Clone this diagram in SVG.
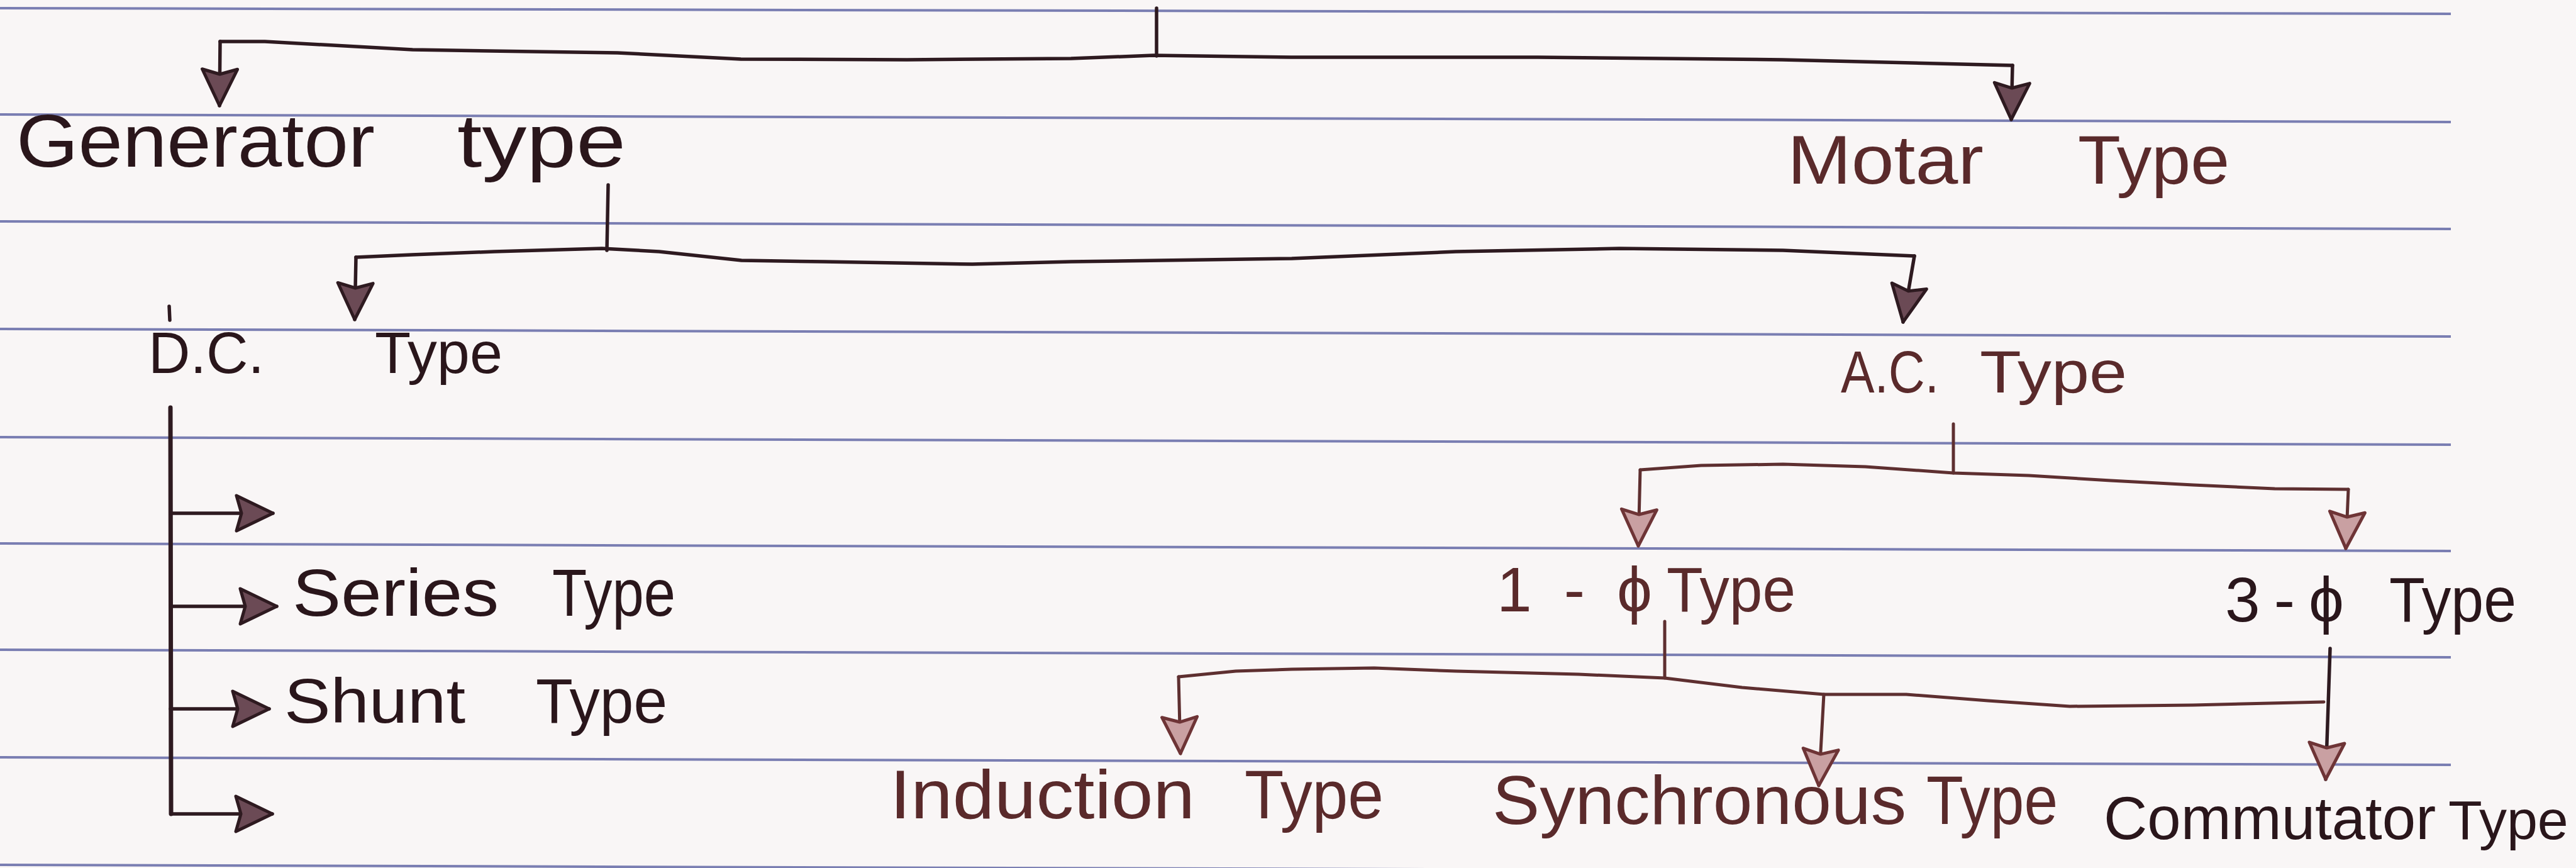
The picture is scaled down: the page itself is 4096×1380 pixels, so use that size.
<svg xmlns="http://www.w3.org/2000/svg" width="4096" height="1380" viewBox="0 0 4096 1380">
<defs>
<style>
.rule{stroke:#6468a6;stroke-width:4;fill:none;opacity:0.85}
.cd{fill:none;stroke:#2e1a20;stroke-width:5.5;stroke-linecap:round;stroke-linejoin:round}
.cr{fill:none;stroke:#5e2f30;stroke-width:5;stroke-linecap:round;stroke-linejoin:round}
.ad{marker-end:url(#ahd)}
.ar{marker-end:url(#ahr)}
text{font-family:"Liberation Sans","DejaVu Sans",Arial,sans-serif;font-weight:normal}
.tk{fill:#2a161b}
.tr{fill:#5a2a2b}
</style>
<marker id="ahd" viewBox="-6 -36 72 72" refX="58" refY="0" markerWidth="72" markerHeight="72" markerUnits="userSpaceOnUse" orient="auto">
<path d="M0,-28 L58,0 L0,28 L8,0 Z" fill="#6b4a55" stroke="#2e1a20" stroke-width="5" stroke-linejoin="round"/>
</marker>
<marker id="ahr" viewBox="-6 -36 72 72" refX="58" refY="0" markerWidth="72" markerHeight="72" markerUnits="userSpaceOnUse" orient="auto">
<path d="M0,-28 L58,0 L0,28 L8,0 Z" fill="#c9a0a2" stroke="#6e3436" stroke-width="5" stroke-linejoin="round"/>
</marker>
</defs>
<rect x="0" y="0" width="4096" height="1380" fill="#f9f6f6"/>
<g id="rules">
<line class="rule" x1="0" y1="13" x2="3897" y2="22"/>
<line class="rule" x1="0" y1="182" x2="3897" y2="194"/>
<line class="rule" x1="0" y1="352" x2="3897" y2="364"/>
<line class="rule" x1="0" y1="523" x2="3897" y2="535"/>
<line class="rule" x1="0" y1="695" x2="3897" y2="707"/>
<line class="rule" x1="0" y1="864" x2="3897" y2="876"/>
<line class="rule" x1="0" y1="1033" x2="3897" y2="1045"/>
<line class="rule" x1="0" y1="1204" x2="3897" y2="1216"/>
<line class="rule" x1="0" y1="1375" x2="3897" y2="1387"/>
</g>
<g id="connectors">
<path class="cd" d="M1839,13 L1839,89"/>
<path class="cd" d="M350,66 L421,66 L656,79 L982,84 L1178,94 L1442,95 L1703,93 L1834,88 L2053,91 L2445,91 L2834,95 L3200,104"/>
<path class="cd ad" d="M350,66 L349,168"/>
<path class="cd ad" d="M3200,104 L3198,190"/>
<path class="cd" d="M967,294 L965,398"/>
<path class="cd" d="M566,409 L655,405 L786,400 L957,395 L1048,400 L1179,414 L1310,416 L1546,420 L1703,416 L2054,411 L2315,400 L2575,395 L2835,398 L3044,407"/>
<path class="cd ad" d="M566,409 L564,508"/>
<path class="cd ad" d="M3044,407 L3026,512"/>
<path class="cr" d="M3106,674 L3106,752"/>
<path class="cr" d="M2608,747 L2705,740 L2835,738 L2966,742 L3106,752 L3226,756 L3356,764 L3487,771 L3617,777 L3734,778"/>
<path class="cr ar" d="M2608,747 L2605,868"/>
<path class="cr ar" d="M3734,778 L3730,872"/>
<path class="cr" d="M2647,988 L2647,1078"/>
<path class="cr" d="M1874,1076 L1965,1067 L2054,1064 L2185,1062 L2315,1067 L2510,1072 L2647,1078 L2770,1093 L2900,1104 L3031,1104 L3161,1114 L3291,1123 L3487,1121 L3695,1116"/>
<path class="cr ar" d="M1874,1076 L1877,1198"/>
<path class="cr ar" d="M2900,1104 L2892,1249"/>
<path class="cd ar" d="M3705,1031 L3698,1239"/>
<path class="cd" d="M269,487 L270,509"/>
<path class="cd" style="stroke-width:7" d="M271,648 L272,1294"/>
<path class="cd ad" d="M271,816 L434,816"/>
<path class="cd ad" d="M271,964 L440,964"/>
<path class="cd ad" d="M271,1127 L428,1127"/>
<path class="cd ad" d="M272,1294 L433,1294"/>
</g>
<g id="generator"><text class="tk" y="265" font-size="118"><tspan x="26" textLength="570" lengthAdjust="spacingAndGlyphs">Generator</tspan> <tspan x="727" textLength="268" lengthAdjust="spacingAndGlyphs">type</tspan></text></g>
<g id="motor"><text class="tr" y="292" font-size="110"><tspan x="2842" textLength="312" lengthAdjust="spacingAndGlyphs">Motar</tspan> <tspan x="3304" textLength="241" lengthAdjust="spacingAndGlyphs">Type</tspan></text></g>
<g id="dc"><text class="tk" y="593" font-size="92"><tspan x="236" textLength="184" lengthAdjust="spacingAndGlyphs">D.C.</tspan> <tspan x="596" textLength="203" lengthAdjust="spacingAndGlyphs">Type</tspan></text></g>
<g id="ac"><text class="tr" y="624" font-size="95"><tspan x="2927" textLength="156" lengthAdjust="spacingAndGlyphs">A.C.</tspan> <tspan x="3148" textLength="234" lengthAdjust="spacingAndGlyphs">Type</tspan></text></g>
<g id="series"><text class="tk" y="979" font-size="105"><tspan x="465" textLength="328" lengthAdjust="spacingAndGlyphs">Series</tspan> <tspan x="878" textLength="196" lengthAdjust="spacingAndGlyphs">Type</tspan></text></g>
<g id="shunt"><text class="tk" y="1149" font-size="100"><tspan x="452" textLength="288" lengthAdjust="spacingAndGlyphs">Shunt</tspan> <tspan x="852" textLength="209" lengthAdjust="spacingAndGlyphs">Type</tspan></text></g>
<g id="single-phase"><text class="tr" y="972" font-size="100"><tspan x="2380" textLength="247" lengthAdjust="spacing">1-ϕ</tspan> <tspan x="2650" textLength="205" lengthAdjust="spacingAndGlyphs">Type</tspan></text></g>
<g id="three-phase"><text class="tk" y="988" font-size="100"><tspan x="3538" textLength="189" lengthAdjust="spacing">3-ϕ</tspan> <tspan x="3799" textLength="202" lengthAdjust="spacingAndGlyphs">Type</tspan></text></g>
<g id="induction"><text class="tr" y="1301" font-size="110"><tspan x="1415" textLength="485" lengthAdjust="spacingAndGlyphs">Induction</tspan> <tspan x="1979" textLength="221" lengthAdjust="spacingAndGlyphs">Type</tspan></text></g>
<g id="synchronous"><text class="tr" y="1310" font-size="110"><tspan x="2373" textLength="658" lengthAdjust="spacingAndGlyphs">Synchronous</tspan> <tspan x="3063" textLength="209" lengthAdjust="spacingAndGlyphs">Type</tspan></text></g>
<g id="commutator"><text class="tk" y="1334"><tspan x="3345" font-size="96">Commutator</tspan> <tspan x="3893" font-size="88">Type</tspan></text></g>
</svg>
